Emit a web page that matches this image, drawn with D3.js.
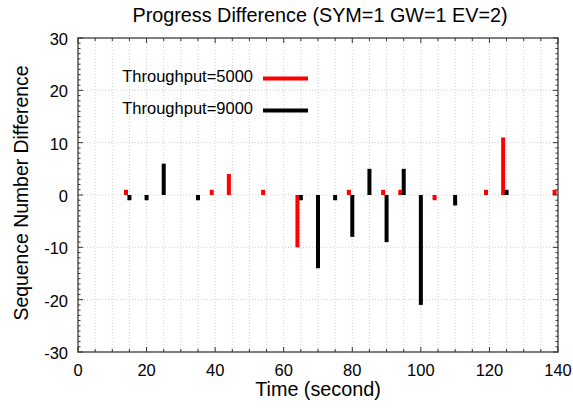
<!DOCTYPE html>
<html>
<head>
<meta charset="utf-8">
<script src="https://cdn.jsdelivr.net/npm/d3@7"></script>
<style>
  body { margin: 0; background: #fff; }
  text { font-family: "Liberation Sans", Arial, sans-serif; fill: #000; }
</style>
</head>
<body>
<div id="chart"></div>
<script>
// Throughput=5000 (red)
const redTimes = [14, 39, 44, 54, 64, 79, 89, 94, 104, 119, 124, 139];
const redValues = [1, 1, 4, 1, -10, 1, 1, 1, -1, 1, 11, 1];
// Throughput=9000 (black)
const blackTimes = [15, 20, 25, 35, 65, 70, 75, 80, 85, 90, 95, 100, 110, 125];
const blackValues = [-1, -1, 6, -1, -1, -14, -1, -8, 5, -9, 5, -21, -2, 1];

const xTicks = [0, 20, 40, 60, 80, 100, 120, 140];
const yTicks = [-30, -20, -10, 0, 10, 20, 30];
const seriesNames = ["Throughput=5000", "Throughput=9000"];

const W = 573, H = 409;
const pLeft = 78, pRight = 558, pTop = 38, pBottom = 352;

const svg = d3.select("#chart").append("svg")
  .attr("width", W).attr("height", H);

const x = d3.scaleLinear().domain([0, 140]).range([pLeft, pRight]);
const y = d3.scaleLinear().domain([-30, 30]).range([pBottom, pTop]);

// grid
const grid = svg.append("g");
grid.selectAll("line.vg")
  .data(d3.range(5, 140, 5))
  .enter().append("line")
  .attr("x1", d => x(d)).attr("x2", d => x(d))
  .attr("y1", pTop).attr("y2", pBottom)
  .attr("stroke", "#cfcfcf").attr("stroke-width", 1)
  .attr("stroke-dasharray", "1,2");
grid.selectAll("line.hg")
  .data([-20, -10, 0, 10, 20])
  .enter().append("line")
  .attr("x1", pLeft).attr("x2", pRight)
  .attr("y1", d => y(d)).attr("y2", d => y(d))
  .attr("stroke", "#cfcfcf").attr("stroke-width", 1)
  .attr("stroke-dasharray", "1,2");

// bars
function drawBars(times, values, color) {
  svg.append("g").selectAll("rect")
    .data(times.map((t, i) => ({ t, v: values[i] })))
    .enter().append("rect")
    .attr("x", d => x(d.t) - 2)
    .attr("width", 4)
    .attr("y", d => y(Math.max(0, d.v)))
    .attr("height", d => Math.abs(y(d.v) - y(0)))
    .attr("fill", color);
}
drawBars(redTimes, redValues, "#ff0000");
drawBars(blackTimes, blackValues, "#000000");

// frame
svg.append("rect")
  .attr("x", pLeft).attr("y", pTop)
  .attr("width", pRight - pLeft).attr("height", pBottom - pTop)
  .attr("fill", "none").attr("stroke", "#555").attr("stroke-width", 1.5);

// ticks (inside, gnuplot style)
const tk = svg.append("g").attr("stroke", "#333").attr("stroke-width", 1);
d3.range(0, 141, 5).forEach(d => {
  const len = d % 20 === 0 ? 5 : 3;
  tk.append("line").attr("x1", x(d)).attr("x2", x(d)).attr("y1", pBottom).attr("y2", pBottom - len);
  tk.append("line").attr("x1", x(d)).attr("x2", x(d)).attr("y1", pTop).attr("y2", pTop + len);
});
d3.range(-30, 31, 1).forEach(d => {
  const len = d % 10 === 0 ? 5 : 2.5;
  tk.append("line").attr("y1", y(d)).attr("y2", y(d)).attr("x1", pLeft).attr("x2", pLeft + len);
  tk.append("line").attr("y1", y(d)).attr("y2", y(d)).attr("x1", pRight).attr("x2", pRight - len);
});

// tick labels
svg.append("g").selectAll("text")
  .data(xTicks).enter().append("text")
  .attr("x", d => x(d)).attr("y", pBottom + 24)
  .attr("text-anchor", "middle").attr("font-size", 16.5)
  .text(d => d);
svg.append("g").selectAll("text")
  .data(yTicks).enter().append("text")
  .attr("x", pLeft - 10).attr("y", d => y(d) + 7)
  .attr("text-anchor", "end").attr("font-size", 16.5)
  .text(d => d);

// titles
svg.append("text")
  .attr("x", 320).attr("y", 22)
  .attr("text-anchor", "middle").attr("font-size", 19.8)
  .text("Progress Difference (SYM=1 GW=1 EV=2)");
svg.append("text")
  .attr("x", 318).attr("y", 396)
  .attr("text-anchor", "middle").attr("font-size", 19.8)
  .text("Time (second)");
svg.append("text")
  .attr("transform", "translate(28,193) rotate(-90)")
  .attr("text-anchor", "middle").attr("font-size", 19.4)
  .text("Sequence Number Difference");

// legend
const legend = svg.append("g");
[["#ff0000", 78.5, 82], ["#000000", 110.5, 114]].forEach((c, i) => {
  legend.append("text")
    .attr("x", 253).attr("y", c[2])
    .attr("text-anchor", "end").attr("font-size", 16.5)
    .text(seriesNames[i]);
  legend.append("line")
    .attr("x1", 263).attr("x2", 308)
    .attr("y1", c[1]).attr("y2", c[1])
    .attr("stroke", c[0]).attr("stroke-width", 4);
});
</script>
</body>
</html>
